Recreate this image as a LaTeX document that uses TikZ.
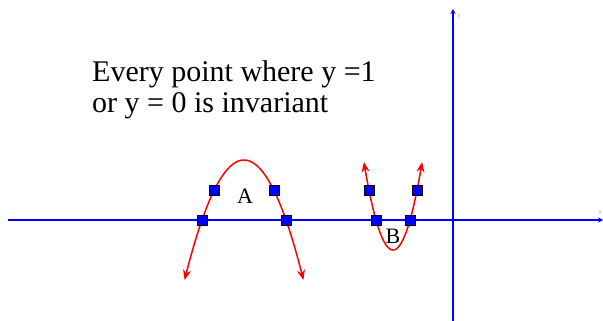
\documentclass[tikz,border=0pt]{standalone}
\usepackage{fontspec}
\setmainfont{Liberation Serif}
\usetikzlibrary{arrows.meta}
\tikzset{
  axis/.style={blue, line width=1.8pt, -{Stealth[length=5pt,width=5pt]}},
  curve/.style={red, line width=1.5pt, -{Stealth[length=10pt,width=8pt]}, samples=60, smooth},
  pt/.style={draw=black, fill=blue, line width=0.8pt, minimum size=10pt, inner sep=0pt},
  lab/.style={font=\fontsize{22}{24}\selectfont, inner sep=0pt},
  note/.style={font=\fontsize{30}{31}\selectfont, inner sep=0pt, anchor=base west},
  tiny/.style={font=\fontsize{5}{5}\selectfont, text=orange!80!black, inner sep=0pt}
}
\begin{document}
\begin{tikzpicture}[x=1pt, y=-1pt]
\useasboundingbox (0,0) rectangle (603,321);
% axes
\coordinate (xs) at (8,220);
\coordinate (xe) at (603,220);
\coordinate (ys) at (453,321);
\coordinate (ye) at (453,9);
\draw[axis] (xs) -- (xe);
\draw[axis] (ys) -- (ye);
\node[tiny] (ylab) at (459,17) {y};
\node[tiny] (xlab) at (600,212) {x};
% text
\node[note] (t1) at (92,82) {Every point where y =1};
\node[note] (t2) at (92,113) {or y = 0 is invariant};
% curve A
\draw[curve, domain=244:184.6] plot (\x, {160+0.034*(\x-244)^2});
\draw[curve, domain=244:303.4] plot (\x, {160+0.034*(\x-244)^2});
% curve B
\draw[curve, domain=393:363.9] plot (\x, {250-0.1038*(\x-393)^2});
\draw[curve, domain=393:422.1] plot (\x, {250-0.1038*(\x-393)^2});
% points
\node[pt] (a1) at (202,220) {};
\node[pt] (a2) at (214.3,190) {};
\node[pt] (a3) at (274,190) {};
\node[pt] (a4) at (286,220) {};
\node[pt] (b1) at (369,190) {};
\node[pt] (b2) at (376,220) {};
\node[pt] (b3) at (410,220) {};
\node[pt] (b4) at (417,190) {};
% labels
\node[lab] (A) at (245,196) {A};
\node[lab] (B) at (393,236) {B};
\end{tikzpicture}
\end{document}
